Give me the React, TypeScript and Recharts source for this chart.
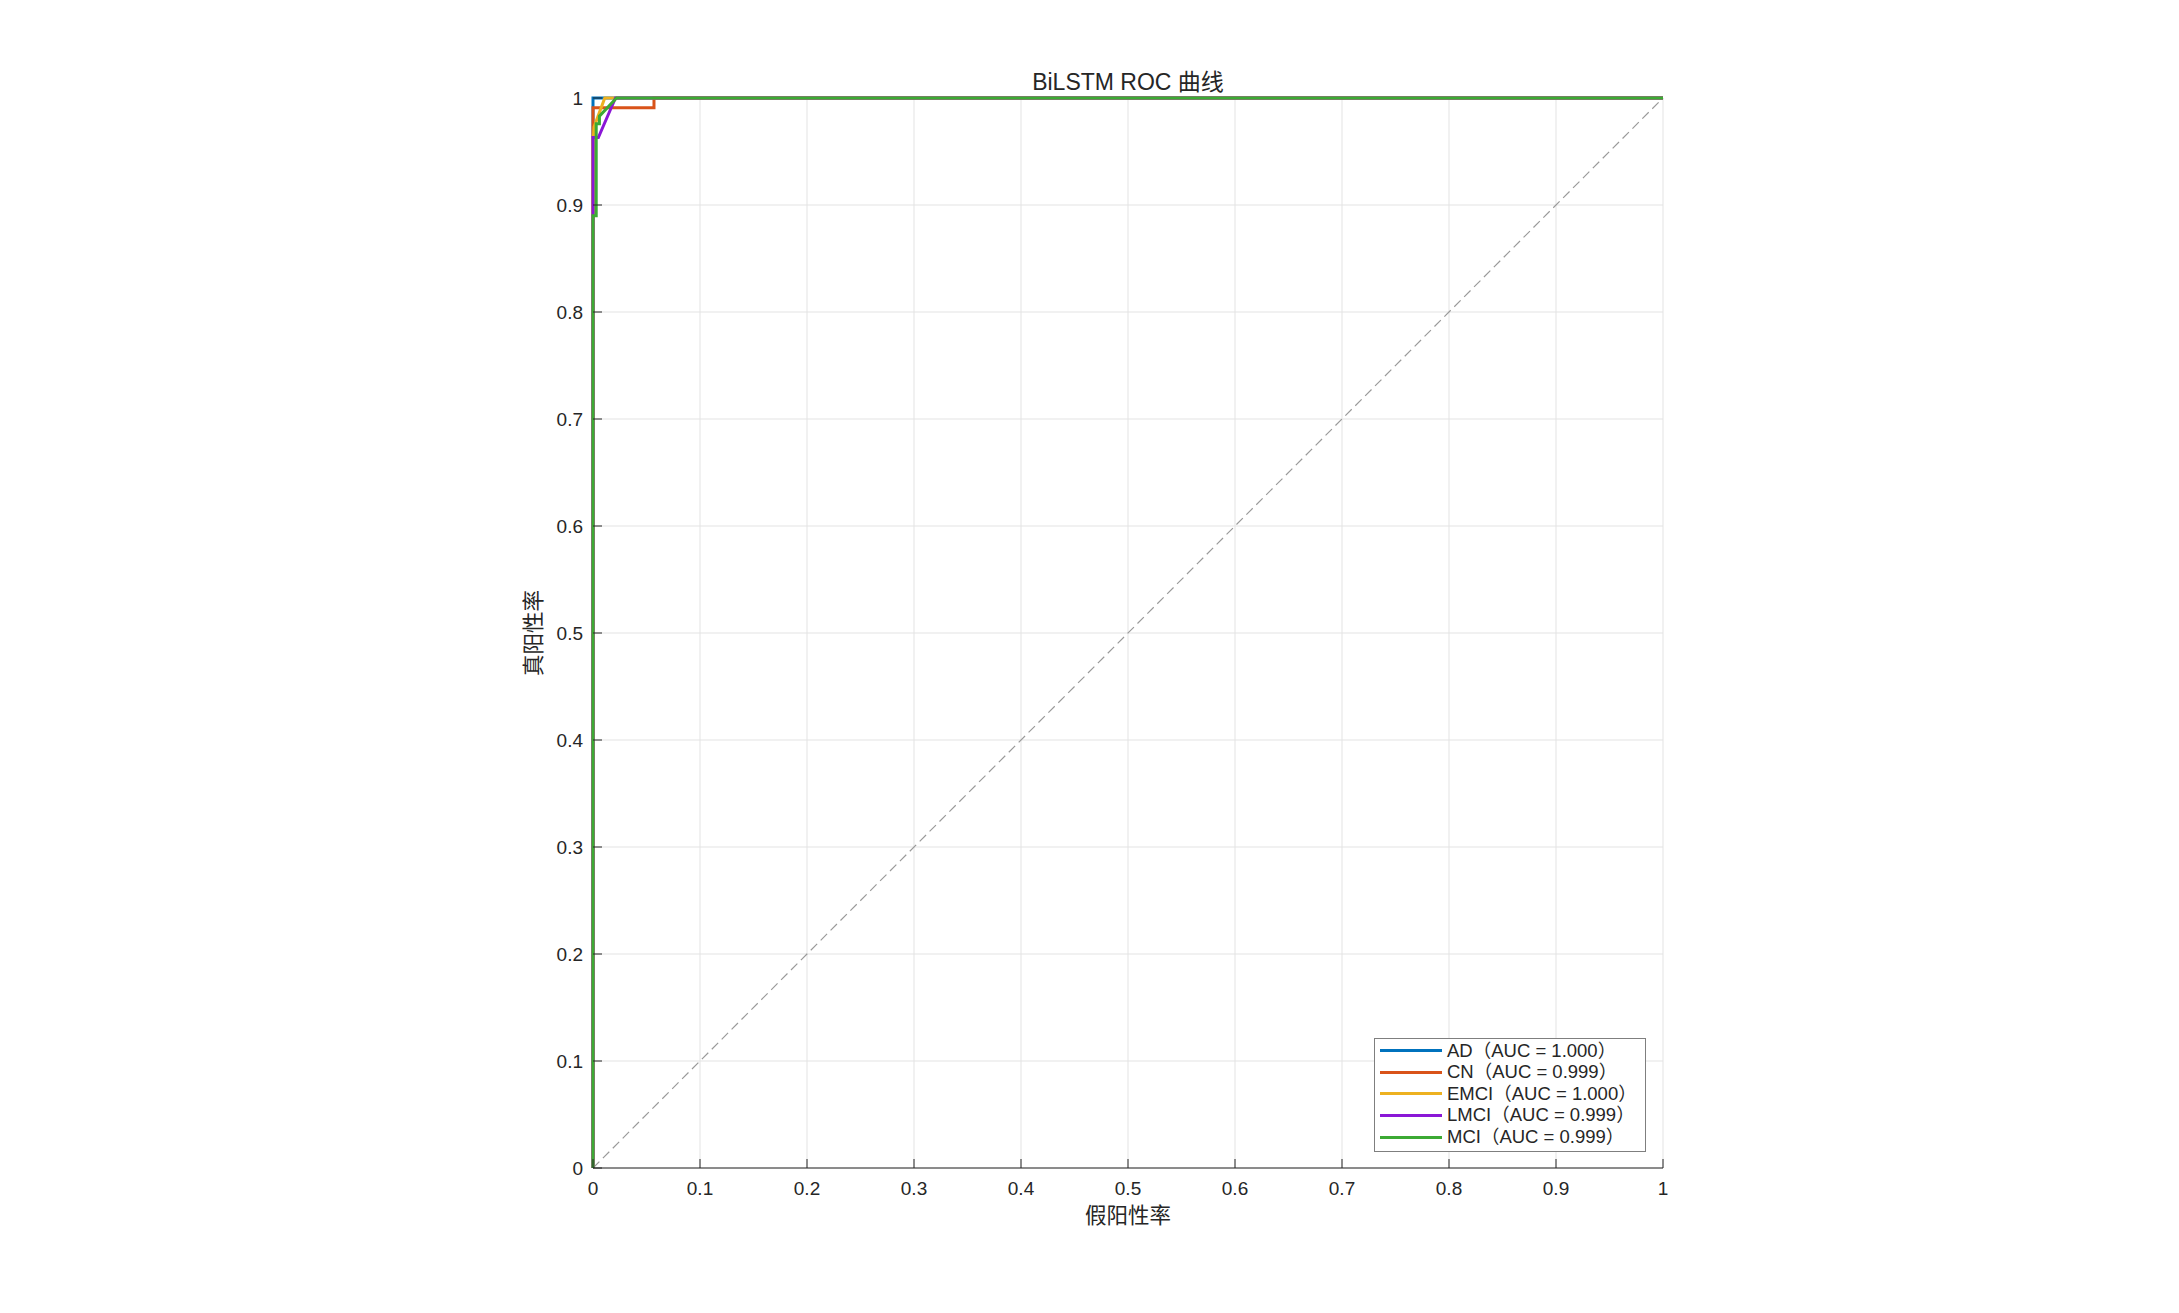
import React from "react";
import { LineChart, Line, XAxis, YAxis, CartesianGrid, Legend, Label } from "recharts";

// axis ticks (both axes share them)
const TICKS = [0, 0.1, 0.2, 0.3, 0.4, 0.5, 0.6, 0.7, 0.8, 0.9, 1];
const TICK_LABELS = ["0", "0.1", "0.2", "0.3", "0.4", "0.5", "0.6", "0.7", "0.8", "0.9", "1"];

const CLASSES = ["AD", "CN", "EMCI", "LMCI", "MCI"];
const AUC = ["1.000", "0.999", "1.000", "0.999", "0.999"];
const COLORS = ["#0072BD", "#D95319", "#EDB120", "#8A17D6", "#3CAA34"];

// ROC points
const AD_FPR = [0, 0, 0.009, 1];
const AD_TPR = [0, 1, 1, 1];
const CN_FPR = [0, 0, 0.057, 0.057, 1];
const CN_TPR = [0, 0.991, 0.991, 1, 1];
const EMCI_FPR = [0, 0, 0.001, 0.011, 1];
const EMCI_TPR = [0, 0.957, 0.973, 1, 1];
const LMCI_FPR = [0, 0, 0.005, 0.021, 1];
const LMCI_TPR = [0, 0.963, 0.963, 1, 1];
const MCI_FPR = [0, 0, 0.003, 0.003, 0.006, 0.006, 0.022, 1];
const MCI_TPR = [0, 0.89, 0.89, 0.976, 0.976, 0.983, 1, 1];
const CHANCE_FPR = [0, 1];
const CHANCE_TPR = [0, 1];

const zip = (fpr: number[], tpr: number[]) => fpr.map((f, i) => ({ fpr: f, tpr: tpr[i] }));

const SERIES = [
  zip(AD_FPR, AD_TPR),
  zip(CN_FPR, CN_TPR),
  zip(EMCI_FPR, EMCI_TPR),
  zip(LMCI_FPR, LMCI_TPR),
  zip(MCI_FPR, MCI_TPR),
];

const FONT = '"Liberation Sans", Arial, "Noto Sans CJK SC", sans-serif';
const CJK = '"Noto Sans CJK SC", "Liberation Sans", sans-serif';
const INK = "#262626";

const label = (v: number) => TICK_LABELS[TICKS.indexOf(v)] ?? String(v);

function XTick({ x, y, payload }: any) {
  return (
    <g>
      <line x1={x} x2={x} y1={y} y2={y - 9} stroke={INK} strokeWidth={1} />
      <text x={x} y={y + 27} textAnchor="middle" fontSize={19} fontFamily={FONT} fill={INK}>
        {label(payload.value)}
      </text>
    </g>
  );
}

function YTick({ x, y, payload }: any) {
  return (
    <g>
      <line x1={x} x2={x + 9} y1={y} y2={y} stroke={INK} strokeWidth={1} />
      <text x={x - 10} y={y + 7} textAnchor="end" fontSize={19} fontFamily={FONT} fill={INK}>
        {label(payload.value)}
      </text>
    </g>
  );
}

function LegendBox({ payload }: any) {
  const items = (payload || []).filter((p: any) => p.type !== "none");
  return (
    <div
      style={{
        width: 272,
        height: 114,
        boxSizing: "border-box",
        background: "#fff",
        border: "1.5px solid #7f7f7f",
        paddingTop: 1,
      }}
    >
      {items.map((p: any) => (
        <div key={p.value} style={{ height: 21.6, display: "flex", alignItems: "center" }}>
          <div style={{ width: 62, height: 3, marginLeft: 5, background: p.color }} />
          <span style={{ marginLeft: 5, fontSize: 18.5, fontFamily: FONT, color: INK, whiteSpace: "nowrap", lineHeight: 1 }}>
            {p.value}
          </span>
        </div>
      ))}
    </div>
  );
}

export default function App() {
  return (
    <div style={{ position: "relative", width: 2179, height: 1313, background: "#fff" }}>
      <style>{"body{margin:0;background:#fff}"}</style>
      <div
        style={{
          position: "absolute",
          left: 593,
          width: 1070,
          top: 63,
          textAlign: "center",
          fontSize: 23,
          fontFamily: FONT,
          color: INK,
        }}
      >
        BiLSTM ROC 曲线
      </div>
      <LineChart width={2179} height={1313} margin={{ top: 98, right: 516, bottom: 0, left: 0 }}>
        <CartesianGrid stroke="#e3e3e3" strokeWidth={1} />
        <XAxis
          type="number"
          dataKey="fpr"
          domain={[0, 1]}
          ticks={TICKS}
          interval={0}
          height={145}
          tickSize={0}
          tickMargin={0}
          tickLine={false}
          axisLine={{ stroke: INK, strokeWidth: 1 }}
          tick={<XTick />}
        >
          <Label
            content={({ viewBox }: any) => (
              <text
                x={viewBox.x + viewBox.width / 2}
                y={viewBox.y + 55}
                textAnchor="middle"
                fontSize={21.5}
                fontFamily={CJK}
                fill={INK}
              >
                假阳性率
              </text>
            )}
          />
        </XAxis>
        <YAxis
          type="number"
          dataKey="tpr"
          domain={[0, 1]}
          ticks={TICKS}
          interval={0}
          width={593}
          tickSize={0}
          tickMargin={0}
          tickLine={false}
          axisLine={false}
          tick={<YTick />}
        >
          <Label
            content={({ viewBox }: any) => {
              const cx = viewBox.x + viewBox.width - 60;
              const cy = viewBox.y + viewBox.height / 2;
              return (
                <text
                  x={cx}
                  y={cy + 8}
                  textAnchor="middle"
                  fontSize={21.5}
                  fontFamily={CJK}
                  fill={INK}
                  transform={`rotate(-90 ${cx} ${cy})`}
                >
                  真阳性率
                </text>
              );
            }}
          />
        </YAxis>
        <Line
          data={zip(CHANCE_FPR, CHANCE_TPR)}
          dataKey="tpr"
          stroke="#9a9a9a"
          strokeWidth={1.2}
          strokeDasharray="9 5"
          dot={false}
          activeDot={false}
          legendType="none"
          isAnimationActive={false}
        />
        {SERIES.map((d, i) => (
          <Line
            key={CLASSES[i]}
            data={d}
            dataKey="tpr"
            name={`${CLASSES[i]}（AUC = ${AUC[i]}）`}
            stroke={COLORS[i]}
            strokeWidth={3}
            dot={false}
            activeDot={false}
            isAnimationActive={false}
          />
        ))}
        <Legend
          layout="horizontal"
          align="center"
          verticalAlign="middle"
          content={<LegendBox />}
          wrapperStyle={{ left: 1374, top: 1038, width: 272, height: 114, right: "auto", bottom: "auto" }}
        />
      </LineChart>
    </div>
  );
}
